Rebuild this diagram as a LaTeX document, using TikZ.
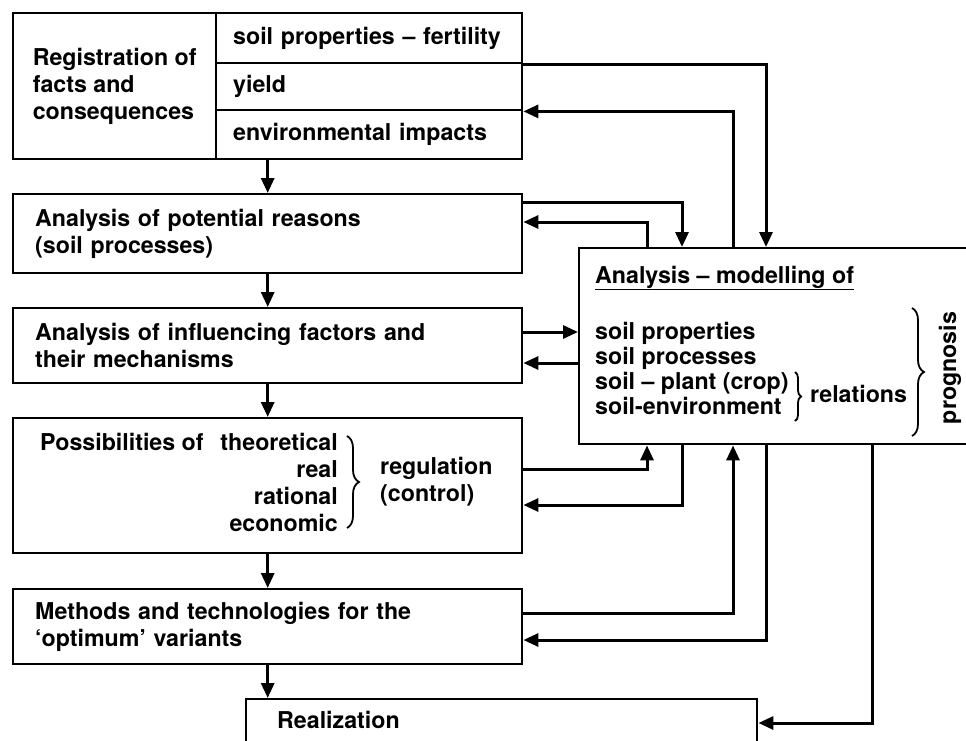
\documentclass[tikz,border=0pt]{standalone}
\usepackage{fontspec}
\setmainfont{TeX Gyre Heros}
\usetikzlibrary{positioning, calc, arrows.meta, decorations.pathreplacing}
\newcommand{\diagfont}{\fontsize{23.2}{27}\selectfont\bfseries}
\newcommand{\listfont}{\fontsize{23.2}{25}\selectfont\bfseries}
\tikzset{
	stagebox/.style={
			draw=black,
			line width=2.4pt,
			rectangle,
			anchor=north west,
			minimum width=509pt,
			inner xsep=22pt,
			text width=465pt,
			align=left,
			font=\diagfont
		},
	rowbox/.style={
			stagebox,
			minimum width=306pt,
			inner xsep=17pt,
			text width=272pt
		},
	framebox/.style={
			draw=black,
			line width=2.4pt,
			rectangle,
			anchor=north west,
			inner sep=0pt
		},
	plaintext/.style={
			inner sep=0pt,
			font=\diagfont
		},
	flow/.style={
			line width=3pt,
			-{Triangle[length=15pt,width=13pt]}
		},
	bracket/.style={
			line width=1.8pt,
			decorate,
			decoration={brace, amplitude=#1}
		}
}

\begin{document}
\begin{tikzpicture}[x=1pt, y=-1pt]
\useasboundingbox (0,0) rectangle (966,740);

% left column
\node[framebox, minimum width=203pt, minimum height=146pt, align=left, font=\diagfont] (regl) at (12,12) {Registration of\\facts and\\consequences};
\node[rowbox, minimum height=50pt] (row1) at (215,12) {soil properties -- fertility};
\node[rowbox, minimum height=47pt] (row2) at (215,62) {yield};
\node[rowbox, minimum height=49pt] (row3) at (215,109) {environmental impacts};
\node[stagebox, minimum height=79pt] (reasons) at (12,193) {Analysis of potential reasons\\(soil processes)};
\node[stagebox, minimum height=75pt] (factors) at (12,307) {Analysis of influencing factors and\\their mechanisms};
\node[stagebox, minimum height=135pt] (options) at (12,417) {};
\node[stagebox, minimum height=75pt] (methods) at (12,588) {Methods and technologies for the\\`optimum' variants};
\node[framebox, minimum width=511pt, minimum height=80pt] (real) at (245,698) {};
\node[plaintext, anchor=west] (realText) at (277,720) {Realization};

% inside the possibilities box
\node[plaintext, anchor=west] (possText) at (40,442) {Possibilities of};
\node[plaintext, anchor=east, align=right] (kinds) at (338,482) {theoretical\\real\\rational\\economic};
\draw[bracket=12pt] (347,436) -- (347,528);
\node[plaintext, anchor=west, align=left] (regul) at (380,482) {regulation\\(control)};

% modelling box
\node[framebox, minimum width=420pt, minimum height=196pt] (model) at (578,247) {};
\node[plaintext, anchor=west] (modTitle) at (595,278) {\underline{Analysis -- modelling of}};
\node[plaintext, anchor=west, align=left, font=\listfont] (modList) at (595,368) {soil properties\\soil processes\\soil -- plant (crop)\\soil-environment};
\draw[bracket=6pt] (795,372) -- (795,421);
\node[plaintext, anchor=west] (relText) at (810,394) {relations};
\draw[bracket=12pt] (912,308) -- (912,436);
\node[plaintext, rotate=90] (progText) at (950,368) {prognosis};

% lanes and ports
\coordinate (laneA) at (647,0);
\coordinate (laneB) at (682,0);
\coordinate (laneC) at (733,0);
\coordinate (laneD) at (766,0);
\coordinate (laneE) at (872,0);
\coordinate (rsOut) at ($(reasons.north east)+(0,9)$);
\coordinate (rsIn) at ($(reasons.north east)+(0,29)$);
\coordinate (fcOut) at ($(factors.north east)+(0,25)$);
\coordinate (fcIn) at ($(factors.north east)+(0,56)$);
\coordinate (opOut) at ($(options.north east)+(0,52)$);
\coordinate (opIn) at ($(options.north east)+(0,88)$);
\coordinate (mtOut) at ($(methods.north east)+(0,25)$);
\coordinate (mtIn) at ($(methods.north east)+(0,52)$);
\coordinate (rlIn) at ($(real.north east)+(0,25)$);

% main chain
\draw[flow] (row3.south -| reasons.north) -- (reasons.north);
\draw[flow] (reasons.south) -- (factors.north);
\draw[flow] (factors.south) -- (options.north);
\draw[flow] (options.south) -- (methods.north);
\draw[flow] (methods.south) -- (methods.south |- real.north);

% feedback to and from the model
\draw[flow] (row1.south east) -| (model.north -| laneD);
\draw[flow] (model.north -| laneC) |- (row2.south east);
\draw[flow] (rsOut) -| (model.north -| laneB);
\draw[flow] (model.north -| laneA) |- (rsIn);
\draw[flow] (fcOut) -- (fcOut -| model.west);
\draw[flow] (fcIn -| model.west) -- (fcIn);
\draw[flow] (opOut) -| (model.south -| laneA);
\draw[flow] (model.south -| laneB) |- (opIn);
\draw[flow] (mtOut) -| (model.south -| laneC);
\draw[flow] (model.south -| laneD) |- (mtIn);
\draw[flow] (model.south -| laneE) |- (rlIn);

\end{tikzpicture}
\end{document}
